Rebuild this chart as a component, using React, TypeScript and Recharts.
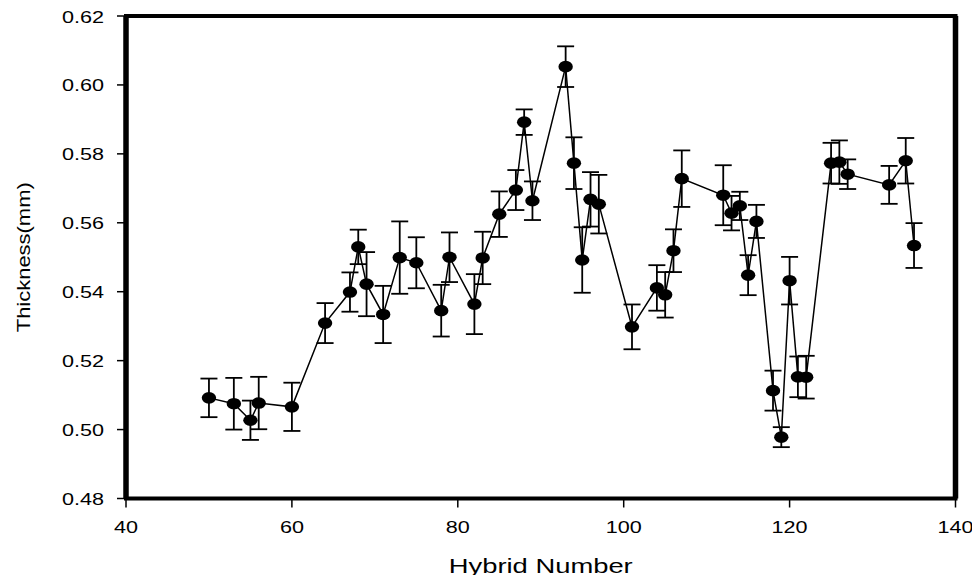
import React from "react";
import {
  LineChart,
  Line,
  XAxis,
  YAxis,
  ErrorBar,
  ReferenceArea,
  ReferenceLine,
} from "recharts";

const hybridNumbers = [
  50, 53, 55, 56, 60, 64, 67, 68, 69, 71, 73, 75, 78, 79, 82, 83, 85, 87, 88, 89,
  93, 94, 95, 96, 97, 101, 104, 105, 106, 107, 112, 113, 114, 115, 116, 118, 119,
  120, 121, 122, 125, 126, 127, 132, 134, 135,
];

const thicknessValues = [
  0.5092, 0.5075, 0.5027, 0.5077, 0.5066, 0.5309, 0.5399, 0.553, 0.5422, 0.5334,
  0.5499, 0.5484, 0.5345, 0.55, 0.5364, 0.5498, 0.5625, 0.5695, 0.5892, 0.5664,
  0.6053, 0.5773, 0.5492, 0.5668, 0.5654, 0.5298, 0.5411, 0.5391, 0.5519, 0.5728,
  0.568, 0.5628, 0.5649, 0.5448, 0.5604, 0.5113, 0.4978, 0.5432, 0.5153, 0.5152,
  0.5773, 0.5776, 0.5741, 0.571, 0.578, 0.5534,
];

const thicknessErrors = [
  0.0056, 0.0075, 0.0057, 0.0076, 0.007, 0.0058, 0.0057, 0.005, 0.0093, 0.0083,
  0.0105, 0.0074, 0.0075, 0.0072, 0.0087, 0.0076, 0.0066, 0.0058, 0.0037, 0.0056,
  0.0059, 0.0075, 0.0095, 0.0079, 0.0085, 0.0065, 0.0066, 0.0066, 0.0062, 0.0082,
  0.0087, 0.005, 0.0041, 0.0058, 0.0048, 0.0058, 0.0029, 0.0069, 0.0059, 0.0062,
  0.0059, 0.0063, 0.0043, 0.0055, 0.0066, 0.0065,
];

const xTicks = [40, 60, 80, 100, 120, 140];
const yTicks = [0.48, 0.5, 0.52, 0.54, 0.56, 0.58, 0.6, 0.62];

const xTitle = "Hybrid Number";
const yTitle = "Thickness(mm)";

const data = hybridNumbers.map((h, i) => ({
  hybrid: h,
  thickness: thicknessValues[i],
  err: thicknessErrors[i],
}));

const FONT = "'Liberation Sans', Arial, sans-serif";
const STRETCH = 1.27;

const YTick = (props: any) => {
  const { x, y, payload } = props;
  return (
    <text
      transform={`translate(${x},${y + 6}) scale(${STRETCH},1)`}
      textAnchor="end"
      fontSize={17}
      fontFamily={FONT}
      fill="#000"
    >
      {Number(payload.value).toFixed(2)}
    </text>
  );
};

const XTick = (props: any) => {
  const { x, y, payload } = props;
  return (
    <text
      transform={`translate(${x},${y + 23.5}) scale(${STRETCH},1)`}
      textAnchor="middle"
      fontSize={17}
      fontFamily={FONT}
      fill="#000"
    >
      {String(payload.value)}
    </text>
  );
};

const Dot = (props: any) => {
  const { cx, cy, index } = props;
  if (cx == null || cy == null) return null;
  return <ellipse key={`d-${index}`} cx={cx} cy={cy} rx={7.2} ry={5.8} fill="#000" />;
};

const XLabel = (props: any) => {
  const vb = props.viewBox || {};
  const cx = vb.x + vb.width / 2;
  const y = vb.y + 74.5;
  return (
    <text
      x={cx}
      y={y}
      textAnchor="middle"
      fontSize={21}
      fontFamily={FONT}
      fill="#000"
      textLength={184}
      lengthAdjust="spacingAndGlyphs"
    >
      {xTitle}
    </text>
  );
};

const YLabel = (props: any) => {
  const vb = props.viewBox || {};
  const cy = vb.y + vb.height / 2;
  return (
    <text
      transform={`translate(22,${cy}) rotate(-90)`}
      textAnchor="middle"
      fontSize={19}
      fontFamily={FONT}
      fill="#000"
      textLength={150}
      lengthAdjust="spacingAndGlyphs"
    >
      {yTitle}
    </text>
  );
};

export default function App() {
  return (
    <div style={{ width: 972, height: 567 }}>
      <LineChart
        width={972}
        height={575}
        data={data}
        margin={{ top: 8, right: 24.5, left: 0, bottom: 8 }}
      >
        <XAxis
          dataKey="hybrid"
          type="number"
          domain={[40, 140]}
          ticks={xTicks}
          allowDataOverflow
          axisLine={false}
          tickLine={{ stroke: "#000", strokeWidth: 1.5 }}
          tickSize={9}
          tickMargin={2}
          tick={<XTick />}
          height={76.5}
          label={<XLabel />}
        />
        <YAxis
          type="number"
          domain={[0.48, 0.62]}
          ticks={yTicks}
          allowDataOverflow
          axisLine={false}
          tickLine={{ stroke: "#000", strokeWidth: 1.5 }}
          tickSize={9}
          tickMargin={13}
          tick={<YTick />}
          width={118}
          label={<YLabel />}
        />
        <ReferenceArea
          x1={40}
          x2={140}
          y1={0.48}
          y2={0.62}
          fill="none"
          fillOpacity={0}
          stroke="#000"
          strokeWidth={4}
          strokeOpacity={1}
        />
        <ReferenceLine x={40} stroke="#000" strokeWidth={5.5} />
        <ReferenceLine x={140} stroke="#000" strokeWidth={5.5} />
        <Line
          type="linear"
          dataKey="thickness"
          stroke="#000"
          strokeWidth={1.5}
          dot={<Dot />}
          activeDot={false}
          isAnimationActive={false}
        >
          <ErrorBar
            dataKey="err"
            direction="y"
            width={8.5}
            stroke="#000"
            strokeWidth={1.8}
            isAnimationActive={false}
          />
        </Line>
      </LineChart>
    </div>
  );
}
